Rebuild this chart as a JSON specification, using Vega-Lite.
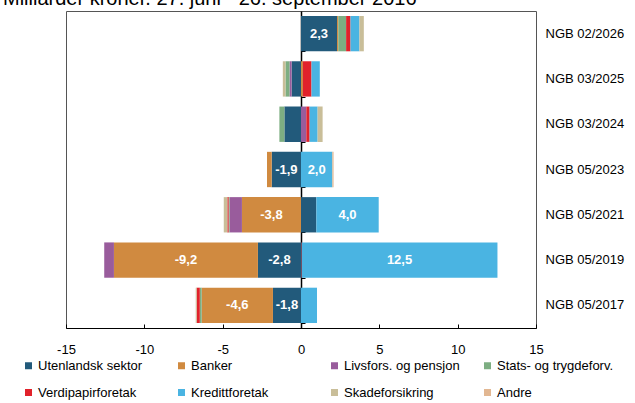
{
  "$schema": "https://vega.github.io/schema/vega-lite/v6.json",
  "autosize": "none",
  "padding": {"left": 66, "top": 11, "right": 99, "bottom": 75},
  "width": 470,
  "height": 317,
  "title": {"text": "Milliarder kroner. 27. juni - 26. september 2016", "anchor": "start", "frame": "group", "dx": -63, "offset": -18, "baseline": "bottom", "fontSize": 20, "fontWeight": "normal", "font": "Liberation Sans", "color": "black"},
  "data": {"values": [
    {"r": "NGB 02/2026", "s": "Utenlandsk sektor", "o": 1, "v": 2.3, "lab": "2,3"},
    {"r": "NGB 02/2026", "s": "Banker", "o": 2, "v": 0.08},
    {"r": "NGB 02/2026", "s": "Stats- og trygdeforv.", "o": 4, "v": 0.5},
    {"r": "NGB 02/2026", "s": "Verdipapirforetak", "o": 5, "v": 0.28},
    {"r": "NGB 02/2026", "s": "Kredittforetak", "o": 6, "v": 0.57},
    {"r": "NGB 02/2026", "s": "Skadeforsikring", "o": 7, "v": 0.28},
    {"r": "NGB 03/2025", "s": "Utenlandsk sektor", "o": 1, "v": -0.6},
    {"r": "NGB 03/2025", "s": "Banker", "o": 2, "v": 0.12},
    {"r": "NGB 03/2025", "s": "Livsfors. og pensjon", "o": 3, "v": -0.13},
    {"r": "NGB 03/2025", "s": "Stats- og trygdeforv.", "o": 4, "v": -0.26},
    {"r": "NGB 03/2025", "s": "Verdipapirforetak", "o": 5, "v": 0.55},
    {"r": "NGB 03/2025", "s": "Kredittforetak", "o": 6, "v": 0.53},
    {"r": "NGB 03/2025", "s": "Skadeforsikring", "o": 7, "v": -0.17},
    {"r": "NGB 03/2024", "s": "Utenlandsk sektor", "o": 1, "v": -1.06},
    {"r": "NGB 03/2024", "s": "Livsfors. og pensjon", "o": 3, "v": 0.34},
    {"r": "NGB 03/2024", "s": "Stats- og trygdeforv.", "o": 4, "v": -0.32},
    {"r": "NGB 03/2024", "s": "Verdipapirforetak", "o": 5, "v": 0.21},
    {"r": "NGB 03/2024", "s": "Kredittforetak", "o": 6, "v": 0.51},
    {"r": "NGB 03/2024", "s": "Skadeforsikring", "o": 7, "v": 0.32},
    {"r": "NGB 05/2023", "s": "Utenlandsk sektor", "o": 1, "v": -1.87, "lab": "-1,9"},
    {"r": "NGB 05/2023", "s": "Banker", "o": 2, "v": -0.3},
    {"r": "NGB 05/2023", "s": "Kredittforetak", "o": 6, "v": 2.0, "lab": "2,0"},
    {"r": "NGB 05/2023", "s": "Andre", "o": 8, "v": 0.08},
    {"r": "NGB 05/2021", "s": "Utenlandsk sektor", "o": 1, "v": 0.98},
    {"r": "NGB 05/2021", "s": "Banker", "o": 2, "v": -3.77, "lab": "-3,8"},
    {"r": "NGB 05/2021", "s": "Livsfors. og pensjon", "o": 3, "v": -0.79},
    {"r": "NGB 05/2021", "s": "Stats- og trygdeforv.", "o": 4, "v": -0.06},
    {"r": "NGB 05/2021", "s": "Verdipapirforetak", "o": 5, "v": -0.08},
    {"r": "NGB 05/2021", "s": "Kredittforetak", "o": 6, "v": 3.98, "lab": "4,0"},
    {"r": "NGB 05/2021", "s": "Skadeforsikring", "o": 7, "v": -0.23},
    {"r": "NGB 05/2019", "s": "Utenlandsk sektor", "o": 1, "v": -2.75, "lab": "-2,8"},
    {"r": "NGB 05/2019", "s": "Banker", "o": 2, "v": -9.19, "lab": "-9,2"},
    {"r": "NGB 05/2019", "s": "Livsfors. og pensjon", "o": 3, "v": -0.62},
    {"r": "NGB 05/2019", "s": "Verdipapirforetak", "o": 5, "v": 0.04},
    {"r": "NGB 05/2019", "s": "Kredittforetak", "o": 6, "v": 12.5, "lab": "12,5"},
    {"r": "NGB 05/2017", "s": "Utenlandsk sektor", "o": 1, "v": -1.79, "lab": "-1,8"},
    {"r": "NGB 05/2017", "s": "Banker", "o": 2, "v": -4.55, "lab": "-4,6"},
    {"r": "NGB 05/2017", "s": "Stats- og trygdeforv.", "o": 4, "v": -0.12},
    {"r": "NGB 05/2017", "s": "Verdipapirforetak", "o": 5, "v": -0.2},
    {"r": "NGB 05/2017", "s": "Skadeforsikring", "o": 7, "v": -0.06},
    {"r": "NGB 05/2017", "s": "Kredittforetak", "o": 6, "v": 1.02}
  ]},
  "layer": [
    {
      "mark": {"type": "bar"},
      "encoding": {
        "y": {"field": "r", "type": "nominal", "sort": null,
          "scale": {"domain": ["NGB 02/2026", "NGB 03/2025", "NGB 03/2024", "NGB 05/2023", "NGB 05/2021", "NGB 05/2019", "NGB 05/2017"], "paddingInner": 0.22, "paddingOuter": 0.11},
          "axis": {"orient": "right", "title": null, "ticks": false, "domain": false, "labelPadding": 9, "labelFontSize": 13, "labelColor": "black", "labelFont": "Liberation Sans"}},
        "x": {"field": "v", "type": "quantitative", "stack": "zero",
          "scale": {"domain": [-15, 15], "nice": false},
          "axis": {"title": null, "values": [-15, -10, -5, 0, 5, 10, 15], "grid": false, "labelFlush": false, "domainColor": "black", "tickColor": "black", "tickSize": -4, "labelPadding": 19, "labelFontSize": 13, "labelColor": "black", "labelFont": "Liberation Sans", "labelExpr": "datum.value < 0 ? '-' + abs(datum.value) : '' + datum.value"}},
        "color": {"field": "s", "type": "nominal",
          "scale": {"domain": ["Utenlandsk sektor", "Banker", "Livsfors. og pensjon", "Stats- og trygdeforv.", "Verdipapirforetak", "Kredittforetak", "Skadeforsikring", "Andre"],
                    "range": ["#225A7B", "#D08A40", "#995C9C", "#7DAE82", "#E1222B", "#4AB4E2", "#C9BE99", "#E2B792"]},
          "legend": {"title": null, "orient": "none", "legendX": -44, "legendY": 348, "direction": "horizontal", "columns": 4, "gridAlign": "all", "columnPadding": 20, "rowPadding": 13, "symbolType": "square", "symbolSize": 49, "symbolStrokeWidth": 0, "labelOffset": 3, "labelFontSize": 13, "labelColor": "black", "labelFont": "Liberation Sans", "labelLimit": 200, "padding": 0}},
        "order": {"field": "o", "type": "quantitative"}
      }
    },
    {
      "transform": [
        {"stack": "v", "groupby": ["r"], "sort": [{"field": "o", "order": "ascending"}], "as": ["x0", "x1"], "offset": "zero"},
        {"filter": "datum.lab != null"},
        {"calculate": "(datum.x0 + datum.x1) / 2", "as": "mid"}
      ],
      "mark": {"type": "text", "color": "white", "fontWeight": "bold", "fontSize": 13, "font": "Liberation Sans"},
      "encoding": {
        "y": {"field": "r", "type": "nominal", "sort": null,
          "axis": {"orient": "left", "offset": -235, "title": null, "labels": false, "domainColor": "black", "domainWidth": 1.5, "tickColor": "black", "tickSize": -4, "tickBand": "extent"}},
        "x": {"field": "mid", "type": "quantitative"},
        "text": {"field": "lab"}
      }
    }
  ],
  "resolve": {"axis": {"y": "independent"}},
  "config": {"view": {"stroke": "#555"}}
}
